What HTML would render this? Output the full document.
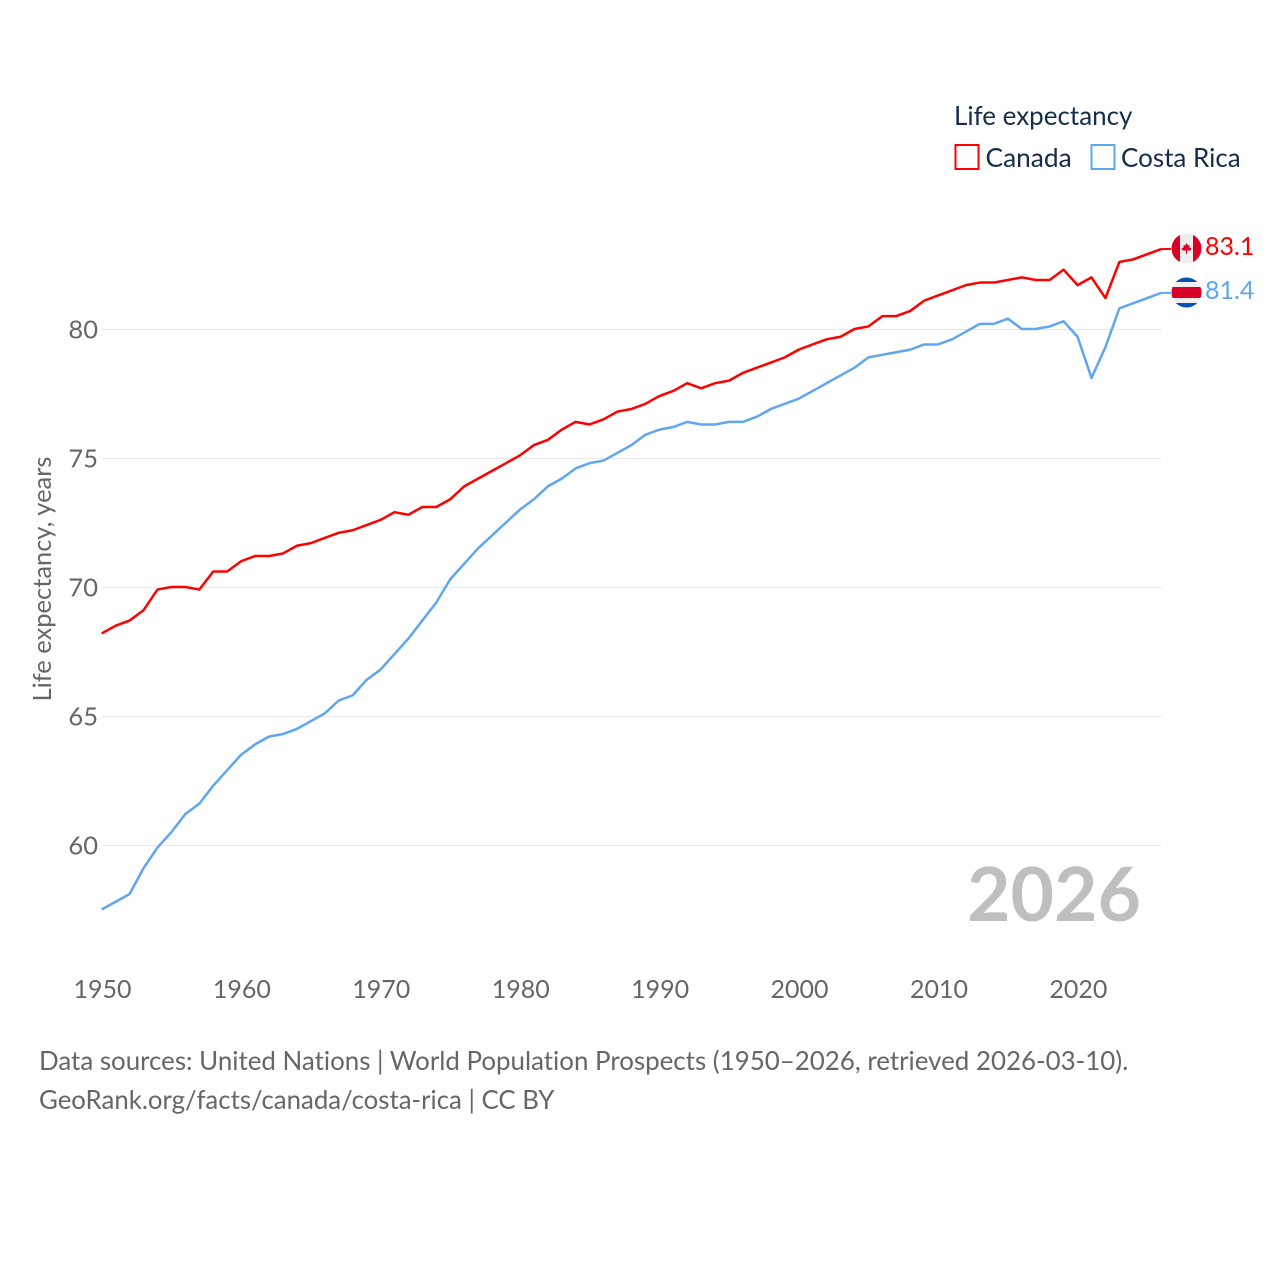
<!DOCTYPE html>
<html lang="en">
<head>
<meta charset="utf-8">
<title>Life expectancy: Canada and Costa Rica</title>
<style>
html,body{margin:0;padding:0;background:#fff;}
svg{display:block;}
text{font-family:"Lato","Carlito","Liberation Sans",sans-serif;font-variant-ligatures:none;}
</style>
</head>
<body>
<svg id="chart" xmlns="http://www.w3.org/2000/svg" width="1280" height="1280" viewBox="0 0 1280 1280">
  <rect x="0" y="0" width="1280" height="1280" fill="#ffffff"/>
  <g id="grid"></g>
  <g id="yticks"></g>
  <g id="xticks"></g>
  <text transform="translate(51,579) rotate(-90)" text-anchor="middle" font-size="25.5" fill="#666666">Life expectancy, years</text>
  <text x="1141" y="921" text-anchor="end" font-size="75" font-weight="700" fill="#bfbfbf">2026</text>
  <g id="series"></g>

  <g>
    <text x="954" y="125" font-size="26" fill="#152c4a">Life expectancy</text>
    <rect x="955.5" y="145" width="23" height="24" fill="none" stroke="#ff0000" stroke-width="2"/>
    <text x="985.5" y="167" font-size="26.3" fill="#152c4a">Canada</text>
    <rect x="1091.5" y="145" width="23" height="24" fill="none" stroke="#5ea6f0" stroke-width="2"/>
    <text x="1121" y="167" font-size="26" fill="#152c4a">Costa Rica</text>
  </g>

  <defs>
    <clipPath id="clip-ca"><circle cx="1186.5" cy="248.5" r="15"/></clipPath>
    <clipPath id="clip-cr"><circle cx="1186.5" cy="292.5" r="15"/></clipPath>
  </defs>
  <g clip-path="url(#clip-ca)">
    <rect x="1171" y="233" width="31" height="31" fill="#eeeeee"/>
    <rect x="1171" y="233" width="9" height="31" fill="#d80027"/>
    <rect x="1193" y="233" width="9" height="31" fill="#d80027"/>
    <polygon points="1186.5,243 1188,245.5 1189.5,245 1189.3,247.5 1191.5,248 1190.5,250.5 1187,250.5 1187,254 1186,254 1186,250.5 1182.5,250.5 1181.5,248 1183.7,247.5 1183.5,245 1185,245.5" fill="#d80027"/>
  </g>
  <g clip-path="url(#clip-cr)">
    <rect x="1171" y="277" width="31" height="31" fill="#eeeeee"/>
    <rect x="1171" y="277" width="31" height="5" fill="#0052b4"/>
    <rect x="1171" y="303" width="31" height="5" fill="#0052b4"/>
    <rect x="1171" y="287" width="31" height="11" fill="#d80027"/>
  </g>
  <text x="1205" y="255" font-size="25" fill="#ff0000">83.1</text>
  <text x="1205" y="299" font-size="25" fill="#5ea6f0">81.4</text>

  <g>
    <text x="39" y="1070" font-size="25.9" fill="#666666">Data sources: United Nations | World Population Prospects (1950–2026, retrieved 2026-03-10).</text>
    <text x="39" y="1109" font-size="25.8" fill="#666666">GeoRank.org/facts/canada/costa-rica | CC BY</text>
  </g>
</svg>
<script>
const startYear = 1950;
const endYear = 2026;
const yTickValues = [60, 65, 70, 75, 80];
const xTickValues = [1950, 1960, 1970, 1980, 1990, 2000, 2010, 2020];
const canadaValues = [68.2,68.5,68.7,69.1,69.9,70.0,70.0,69.9,70.6,70.6,71.0,71.2,71.2,71.3,71.6,71.7,71.9,72.1,72.2,72.4,72.6,72.9,72.8,73.1,73.1,73.4,73.9,74.2,74.5,74.8,75.1,75.5,75.7,76.1,76.4,76.3,76.5,76.8,76.9,77.1,77.4,77.6,77.9,77.7,77.9,78.0,78.3,78.5,78.7,78.9,79.2,79.4,79.6,79.7,80.0,80.1,80.5,80.5,80.7,81.1,81.3,81.5,81.7,81.8,81.8,81.9,82.0,81.9,81.9,82.3,81.7,82.0,81.2,82.6,82.7,82.9,83.1];
const costaRicaValues = [57.5,57.8,58.1,59.1,59.9,60.5,61.2,61.6,62.3,62.9,63.5,63.9,64.2,64.3,64.5,64.8,65.1,65.6,65.8,66.4,66.8,67.4,68.0,68.7,69.4,70.3,70.9,71.5,72.0,72.5,73.0,73.4,73.9,74.2,74.6,74.8,74.9,75.2,75.5,75.9,76.1,76.2,76.4,76.3,76.3,76.4,76.4,76.6,76.9,77.1,77.3,77.6,77.9,78.2,78.5,78.9,79.0,79.1,79.2,79.4,79.4,79.6,79.9,80.2,80.2,80.4,80.0,80.0,80.1,80.3,79.7,78.1,79.3,80.8,81.0,81.2,81.4];

const NS = 'http://www.w3.org/2000/svg';
const plotLeft = 102;
const plotRight = 1161.5;
const lineNudge = -0.5;
function xScale(year) {
  return plotLeft + (year - startYear) * (plotRight - plotLeft) / (endYear - startYear);
}
function yScale(value) {
  return 329.5 + (80 - value) * 25.8;
}
function make(tag, attrs, text) {
  const el = document.createElementNS(NS, tag);
  for (const k in attrs) el.setAttribute(k, attrs[k]);
  if (text !== undefined) el.textContent = text;
  return el;
}
const gridGroup = document.getElementById('grid');
const yGroup = document.getElementById('yticks');
const xGroup = document.getElementById('xticks');
const seriesGroup = document.getElementById('series');

yTickValues.forEach(function (v) {
  const line = make('line', {x1: plotLeft, x2: plotRight, y1: yScale(v), y2: yScale(v), stroke: '#e8e8e8', 'stroke-width': 1});
  
  
  gridGroup.appendChild(line);
  const label = make('text', {x: 98, y: yScale(v) + 9, 'text-anchor': 'end', 'font-size': 25.5, fill: '#666666'}, String(v));
  
  
  yGroup.appendChild(label);
});

xTickValues.forEach(function (y) {
  const label = make('text', {x: xScale(y) + 0.5, y: 998, 'text-anchor': 'middle', 'font-size': 25, fill: '#666666'}, String(y));
  
  
  xGroup.appendChild(label);
});

function drawSeries(values, color, name) {
  const pts = values.map(function (v, i) {
    return (xScale(startYear + i) - 0.3).toFixed(2) + ',' + (yScale(v) + lineNudge).toFixed(2);
  });
  const line = make('polyline', {points: pts.join(' '), fill: 'none', stroke: color, 'stroke-width': 2.5, 'stroke-linejoin': 'round'});
  
  
  seriesGroup.appendChild(line);
  const last = values[values.length - 1];
  const conn = make('line', {x1: plotRight - 0.3, x2: 1171, y1: yScale(last) + lineNudge, y2: yScale(last) + lineNudge, stroke: color, 'stroke-width': 2});
  
  
  seriesGroup.appendChild(conn);
}
drawSeries(canadaValues, '#ff0000', 'canada');
drawSeries(costaRicaValues, '#5ea6f0', 'costa-rica');
</script>
</body>
</html>
